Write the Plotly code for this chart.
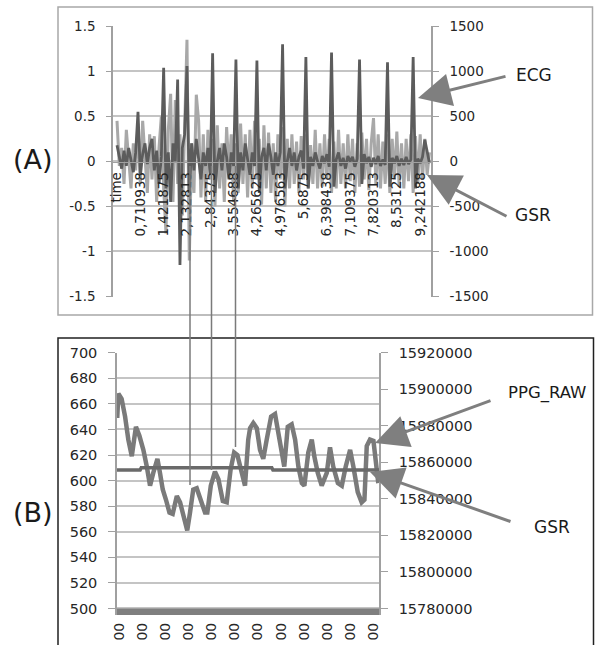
import plotly.graph_objects as go

W, H = 595, 645

# ---------------- Panel A data ----------------
a_tick_labels = ["time", "0,710938", "1,421875", "2,132813", "2,84375", "3,554688",
                 "4,265625", "4,976563", "5,6875", "6,398438", "7,109375",
                 "7,820313", "8,53125", "9,242188"]
a_left_ticks = ["-1.5", "-1", "-0.5", "0", "0.5", "1", "1.5"]
a_left_vals = [-1.5, -1, -0.5, 0, 0.5, 1, 1.5]
a_right_ticks = ["-1500", "-1000", "-500", "0", "500", "1000", "1500"]
a_right_vals = [-1500, -1000, -500, 0, 500, 1000, 1500]

gsr_a = [0.45, -0.05, 0.15, -0.25, 0.35, 0.05, -0.3, 0.2, -0.1, 0.42,
         -0.25, 0.45, 0.05, -0.35, 0.3, -0.2, 0.28, -0.45, 0.15, 0.5,
         -0.3, -0.8, 0.35, 0.75, -0.45, 0.68, -0.25, 0.3, -0.6, 0.55,
         1.35, -1.1, 0.2, -0.35, 0.74, 0.45, -0.4, 0.3, -0.45, 0.35,
         -0.2, 0.25, -0.5, 0.4, -0.3, 0.2, -0.45, 0.38, -0.1, 0.3,
         -0.45, 0.2, -0.35, 0.42, -0.25, 0.3, -0.4, 0.35, -0.3, 0.45,
         -0.2, 0.25, -0.48, 0.4, -0.3, 0.32, -0.35, 0.2, -0.45, 0.3,
         -0.2, 0.38, -0.5, 0.25, -0.3, 0.3, -0.25, 0.22, -0.35, 0.28,
         -0.2, 0.3, -0.3, 0.18, -0.25, 0.35, -0.3, 0.2, -0.28, 0.3,
         -0.2, 0.25, -0.35, 0.22, -0.3, 0.35, -0.25, 0.2, -0.3, 0.3,
         -0.22, 0.25, -0.35, 0.2, -0.28, 0.32, -0.2, 0.25, -0.32, 0.2,
         0.48, -0.25, 0.3, -0.3, 0.22, -0.25, 0.3, -0.35, 0.25, -0.2,
         0.33, -0.28, 0.2, -0.3, 0.25, -0.22, 0.3, -0.35, 0.28, -0.25,
         0.3, -0.2, 0.25, -0.15, 0.1]

ecg = [180, 50, -80, 120, -50, 150, 20, -120, 100, 550,
       -150, 80, 200, -30, 150, 250, -100, 120, -250, 50,
       1040, -300, 100, -450, 200, 0, 910, -1150, 150, 300,
       1060, -350, 200, -100, 250, 50, -200, 100, -50, 150,
       -150, 1200, -350, 0, 150, -100, 200, 50, -200, 100,
       -50, 1130, -300, 100, -100, 200, 0, -150, 100, -50,
       1120, -350, 50, 150, -100, 200, 50, -150, 100, -50,
       100, 1300, -300, 0, 150, -50, 100, -100, 50, 120,
       -80, 1160, -300, 50, -50, 100, 0, -80, 60, -20,
       80, -60, 1210, -280, 20, 100, -50, 40, -80, 60,
       0, 50, -60, 30, 1130, -250, 80, -20, 50, -60,
       40, -30, 60, -50, 20, -40, 1100, -280, 40, -20,
       60, -50, 30, -40, 50, -30, 20, 1160, -300, 30,
       -20, 50, 240, 100, -20]

sample_a = list(range(len(ecg)))

# ---------------- Panel B data ----------------
b_tick_labels = ["00"] * 12
b_left_vals = [500, 520, 540, 560, 580, 600, 620, 640, 660, 680, 700]
b_left_ticks = [str(v) for v in b_left_vals]
b_right_vals = [15780000, 15800000, 15820000, 15840000, 15860000, 15880000, 15900000, 15920000]
b_right_ticks = [str(v) for v in b_right_vals]

ppg_t = [-0.09, -0.04, 0.10, 0.25, 0.39, 0.54, 0.64, 0.72, 0.87, 1.04,
         1.19, 1.33, 1.47, 1.65, 1.76, 1.88, 2.02, 2.17, 2.31, 2.49,
         2.63, 2.80, 2.94, 3.06, 3.20, 3.35, 3.52, 3.71, 3.81, 3.96,
         4.14, 4.29, 4.48, 4.65, 4.82, 4.97, 5.11, 5.30, 5.44, 5.58,
         5.66, 5.80, 5.95, 6.09, 6.23, 6.38, 6.57, 6.74, 6.88, 7.03,
         7.14, 7.29, 7.46, 7.61, 7.75, 7.90, 8.01, 8.18, 8.33, 8.44,
         8.59, 8.76, 8.98, 9.12, 9.26, 9.46, 9.63, 9.80, 9.99, 10.13,
         10.32, 10.49, 10.61, 10.71, 10.85, 11.00, 11.10, 11.21]
ppg = [649, 668, 664, 650, 632, 619, 632, 642, 635, 624,
       611, 596, 606, 617, 606, 593, 585, 575, 574, 588,
       583, 572, 561, 575, 593, 594, 585, 575, 575, 596,
       607, 601, 584, 583, 609, 622, 620, 606, 596, 632,
       641, 645, 641, 624, 617, 632, 650, 652, 637, 624,
       611, 642, 644, 632, 611, 598, 596, 622, 632, 619,
       606, 596, 606, 626, 611, 598, 596, 611, 624, 611,
       591, 583, 585, 627, 632, 631, 614, 598]

gsr_b_t = [-0.1, 0.9, 0.95, 6.6, 6.65, 11.24]
gsr_b = [15855740, 15855740, 15857000, 15857000, 15855740, 15855740]


def px(x):
    return x / W


def py(y):
    return 1 - y / H


FONT = "DejaVu Sans"
TXT = "#262626"
GRID = "#c4c4c4"
AX = "#a0a0a0"

fig = go.Figure()
fig.add_trace(go.Scatter(x=sample_a, y=gsr_a, mode="lines", xaxis="x", yaxis="y",
                         line=dict(color="#a8a8a8", width=3), showlegend=False))
fig.add_trace(go.Scatter(x=sample_a, y=ecg, mode="lines", xaxis="x", yaxis="y2",
                         line=dict(color="#5c5c5c", width=2.8), showlegend=False))
fig.add_trace(go.Scatter(x=gsr_b_t, y=gsr_b, mode="lines", xaxis="x2", yaxis="y4",
                         line=dict(color="#6a6a6a", width=3.5), showlegend=False))
fig.add_trace(go.Scatter(x=ppg_t, y=ppg, mode="lines", xaxis="x2", yaxis="y3",
                         line=dict(color="#7a7a7a", width=4.5), showlegend=False))

a_dom_y = [py(296.5), py(26.3)]
b_dom_y = [py(615), py(352.7)]

fig.update_layout(
    width=W, height=H, margin=dict(l=0, r=0, t=0, b=0, autoexpand=False),
    paper_bgcolor="white", plot_bgcolor="white",
    font=dict(family=FONT, color=TXT),
    xaxis=dict(domain=[px(113), px(431)], range=[-1.72, 134.65], anchor="free",
               position=py(161.7), tickvals=[10 * i for i in range(len(a_tick_labels))],
               ticktext=a_tick_labels, tickangle=-90, tickfont=dict(size=13.5, color=TXT),
               showgrid=False, zeroline=False, showline=True, linecolor=AX, linewidth=1,
               ticks="", ticklabelstandoff=4, automargin=False),
    yaxis=dict(domain=a_dom_y, range=[-1.5, 1.5], tickvals=a_left_vals, ticktext=a_left_ticks,
               tickfont=dict(size=13.5, color=TXT), showgrid=True, gridcolor=GRID, gridwidth=1.5,
               zeroline=False, showline=True, linecolor=AX, linewidth=1.5, ticks="outside",
               ticklen=5, tickcolor=AX, ticklabelstandoff=8, anchor="x", automargin=False),
    yaxis2=dict(overlaying="y", side="right", range=[-1500, 1500], tickvals=a_right_vals,
                ticktext=a_right_ticks, tickfont=dict(size=13.5, color=TXT), showgrid=False,
                zeroline=False, showline=True, linecolor=AX, linewidth=1.5, ticks="outside",
                ticklen=6, tickcolor=AX, ticklabelstandoff=8, anchor="x", automargin=False),
    xaxis2=dict(domain=[px(117), px(379)], range=[-0.1, 11.24], anchor="y3",
                tickvals=list(range(len(b_tick_labels))), ticktext=b_tick_labels, tickangle=-90,
                tickfont=dict(size=14, color=TXT), showgrid=False, zeroline=False,
                showline=False, ticks="", ticklabelstandoff=4, automargin=False),
    yaxis3=dict(domain=b_dom_y, range=[494.9, 700], tickvals=b_left_vals, ticktext=b_left_ticks,
                tickfont=dict(size=14.5, color=TXT), showgrid=True, gridcolor=GRID, gridwidth=1.5,
                zeroline=False, showline=True, linecolor=AX, linewidth=1.5, ticks="outside",
                ticklen=7, tickcolor=AX, ticklabelstandoff=8, anchor="x2", automargin=False),
    yaxis4=dict(overlaying="y3", side="right", range=[15776445, 15920000], tickvals=b_right_vals,
                ticktext=b_right_ticks, tickfont=dict(size=14.5, color=TXT), showgrid=False,
                zeroline=False, showline=True, linecolor=AX, linewidth=1.5, ticks="outside",
                ticklen=7, tickcolor=AX, ticklabelstandoff=8, anchor="x2", automargin=False),
)

shapes = []
# panel frames
shapes.append(dict(type="rect", xref="paper", yref="paper", x0=px(58), x1=px(592.5),
                   y0=py(315), y1=py(7), line=dict(color="#a8a8a8", width=1.5)))
shapes.append(dict(type="rect", xref="paper", yref="paper", x0=px(58), x1=px(593.5),
                   y0=py(646), y1=py(338), line=dict(color="#202020", width=1.5)))
# thick bottom band of panel B
shapes.append(dict(type="rect", xref="x2 domain", yref="y3", x0=0, x1=1, y0=494.9, y1=500,
                   fillcolor="#7f7f7f", line=dict(width=0), layer="above"))
# connector lines between panels
for xc, yend in [(190, 485), (211.5, 470), (235.5, 447)]:
    shapes.append(dict(type="line", xref="paper", yref="paper", x0=px(xc), x1=px(xc),
                       y0=py(166), y1=py(yend), line=dict(color="#7a7a7a", width=1.5)))
fig.update_layout(shapes=shapes)

ann = []
for txt, x, y, s in [("(A)", 33, 159, 27), ("(B)", 33, 512, 27),
                     ("ECG", 534, 75, 17), ("GSR", 533, 215, 17),
                     ("PPG_RAW", 547, 393, 16.5), ("GSR", 552, 527, 17)]:
    ann.append(dict(text=txt, x=px(x), y=py(y), xref="paper", yref="paper", showarrow=False,
                    xanchor="center", yanchor="middle", font=dict(size=s, color="#1a1a1a", family=FONT)))
for (tx, ty), (sx, sy) in [((418, 98), (507, 76)), ((427, 175), (508, 217)),
                           ((375, 443), (492, 400)), ((370, 472), (512, 522))]:
    ann.append(dict(text="", x=px(tx), y=py(ty), xref="paper", yref="paper", showarrow=True,
                    ax=sx - tx, ay=sy - ty, axref="pixel", ayref="pixel", arrowhead=2,
                    arrowsize=2.2, arrowwidth=3, arrowcolor="#7f7f7f", standoff=0))
fig.update_layout(annotations=ann)

fig.write_html("out.html", config={"displayModeBar": False},
               post_script="document.body.style.margin='0px';document.body.style.padding='0px';")
